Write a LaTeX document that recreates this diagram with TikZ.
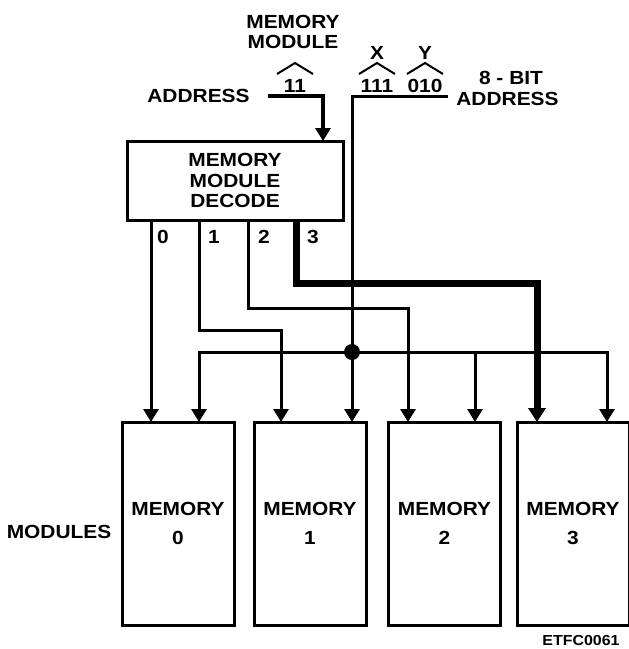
\documentclass[tikz,border=0pt]{standalone}
\usepackage{fontspec}
\setmainfont{Liberation Sans}[UprightFont={* Bold},FakeStretch=1.1]
\usetikzlibrary{arrows.meta,calc}
\begin{document}
\begin{tikzpicture}[x=1pt,y=-1pt,
  lbl/.style={inner sep=0pt,font=\fontsize{19}{17}\selectfont,align=center},
  membox/.style={draw,line width=3pt,inner sep=0pt,minimum width=112pt,minimum height=203pt,
     font=\fontsize{19}{29}\selectfont,align=center},
  wire/.style={line width=3pt},
  arr/.style={wire,-{Triangle[width=15pt,length=13pt]}},
  thickarr/.style={line width=7pt,-{Triangle[width=17pt,length=14pt]}},
  addrarr/.style={line width=4.5pt,-{Triangle[width=15pt,length=13pt]}},
  hat/.style={line width=2pt}]
\useasboundingbox (0,0) rectangle (629,649);

% decode box
\node[draw,line width=3pt,inner sep=0pt,minimum width=216pt,minimum height=79pt,
      font=\fontsize{19}{20.5}\selectfont,align=center] (dec) at (235,180.5)
      {MEMORY\\MODULE\\DECODE};

% memory boxes
\node[membox] (m0) at (178,523.5) {MEMORY\\0};
\node[membox] (m1) at (310,523.5) {MEMORY\\1};
\node[membox] (m2) at (444.5,523.5) {MEMORY\\2};
\node[membox] (m3) at (573,523.5) {MEMORY\\3};

% labels
\node[lbl] (modl) at (59,532) {MODULES};
\node[lbl,font=\fontsize{14.5}{15}\selectfont] (etfc) at (581,641) {ETFC0061};
\node[lbl] (addrl) at (198.5,96) {ADDRESS};
\node[lbl] (mm) at (293,31.5) {MEMORY\\[3pt]MODULE};
\node[lbl] (b11) at (295,86) {11};
\node[lbl] (xl) at (377,53) {X};
\node[lbl] (b111) at (377,86) {111};
\node[lbl] (yl) at (425,53) {Y};
\node[lbl] (b010) at (425,86) {010};
\node[lbl] (bit8) at (511,77.5) {8 - BIT};
\node[lbl] (addrr) at (507.5,98.5) {ADDRESS};
\node[lbl] (d0) at (163,237) {0};
\node[lbl] (d1) at (214,237) {1};
\node[lbl] (d2) at (264,237) {2};
\node[lbl] (d3) at (313,237) {3};

% hats
\draw[hat] (277,74) -- (295,63) -- (313,74);
\draw[hat] (359,74) -- (377,63) -- (395,74);
\draw[hat] (407,74) -- (425,63) -- (443,74);

% coordinates
\coordinate (al) at (268,96);
\coordinate (din) at (323,141);
\coordinate (ar) at (448,96);
\coordinate (o0) at (151,220);
\coordinate (o1) at (199,220);
\coordinate (o2) at (248,220);
\coordinate (o3) at (296,220);
\coordinate (t0a) at (151,422);
\coordinate (t0b) at (199,422);
\coordinate (t1a) at (281,422);
\coordinate (t1b) at (352,422);
\coordinate (t2a) at (408,422);
\coordinate (t2b) at (475,422);
\coordinate (t3a) at (537,422);
\coordinate (t3b) at (607,422);
\coordinate (y1) at (0,330);
\coordinate (y2) at (0,308);
\coordinate (y3) at (0,283);
\node[circle,fill,inner sep=0pt,minimum size=16pt] (dot) at (352,352) {};

% address in
\draw[addrarr] (al) -| (din);
% 8-bit address line
\draw[wire] (ar) -| (dot.center);

% decode outputs
\draw[arr] (o0) -- (t0a);
\draw[arr] (o1) -- (o1 |- y1) -| (t1a);
\draw[arr] (o2) -- (o2 |- y2) -| (t2a);
\draw[thickarr] (o3) -- (o3 |- y3) -| (t3a);

% bus
\draw[arr] (dot.center) -| (t0b);
\draw[arr] (dot.center) -- (t1b);
\draw[arr] (dot.center) -| (t3b);
\draw[arr] (t2b |- dot.center) -- (t2b);
\end{tikzpicture}
\end{document}
